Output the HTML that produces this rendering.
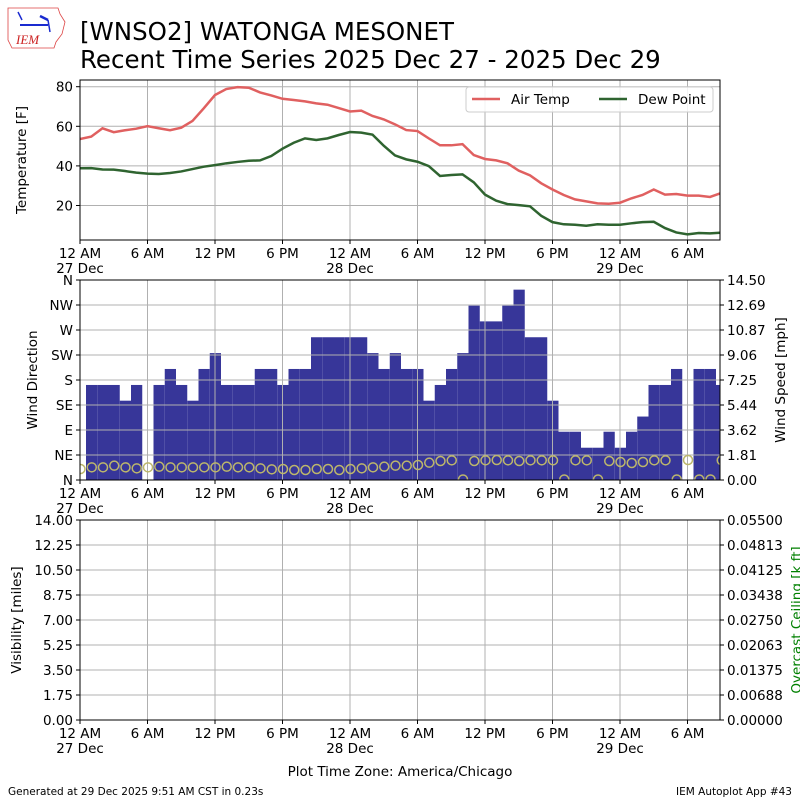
<!DOCTYPE html>
<html><head><meta charset="utf-8"><style>
body{margin:0;background:#fff;}
svg text{font-family:"DejaVu Sans","Liberation Sans",sans-serif;}
</style></head><body>
<svg id="c" width="800" height="800" viewBox="0 0 800 800" xmlns="http://www.w3.org/2000/svg">
<g>
<path d="M8,8 L58,8 L60,14 L65,22 L62,34 L56,42 L54,48 L12,48 L8,40 Z" fill="none" stroke="#d44" stroke-width="0.8"/>
<line x1="20" y1="25" x2="48" y2="25" stroke="#1a2bd0" stroke-width="2"/>
<line x1="18" y1="12" x2="22" y2="20" stroke="#1a2bd0" stroke-width="1.5"/>
<line x1="40" y1="16" x2="48" y2="20" stroke="#1a2bd0" stroke-width="2.5"/>
<line x1="48" y1="20" x2="50" y2="32" stroke="#1a2bd0" stroke-width="1.5"/>
<text x="16" y="44" font-size="13" fill="#c22" font-style="italic" style="font-family:'Liberation Serif',serif">IEM</text>
</g>
<text x="80" y="40" font-size="24.5" fill="#000">[WNSO2] WATONGA MESONET</text>
<text x="80" y="68" font-size="24.5" fill="#000">Recent Time Series 2025 Dec 27 - 2025 Dec 29</text>
<g id="g1"></g>
<g id="g2"></g>
<g id="g3"></g>
<text x="400" y="776" font-size="13.5" text-anchor="middle">Plot Time Zone: America/Chicago</text>
<text x="8" y="795" font-size="10.5">Generated at 29 Dec 2025 9:51 AM CST in 0.23s</text>
<text x="792" y="795" font-size="10.5" text-anchor="end">IEM Autoplot App #43</text>
</svg>
<script>
const airTemp=[53.6,54.8,59,57,58,58.8,60.1,59,58,59.3,62.7,69.1,75.8,78.8,79.8,79.5,77.1,75.6,73.9,73.3,72.6,71.6,70.9,69.2,67.5,67.9,65.2,63.5,61,58.1,57.6,53.9,50.4,50.4,51,45.5,43.5,42.8,41.3,37.6,35.2,31.2,28.1,25.3,23.1,22.1,21.1,20.9,21.4,23.6,25.3,28.1,25.5,25.8,25,25,24.3,26.3];
const dewPoint=[38.8,38.9,38.2,38.1,37.4,36.6,36.1,35.9,36.4,37.2,38.4,39.6,40.4,41.3,42,42.6,42.8,45,48.7,51.7,53.9,53.1,53.9,55.6,57.1,56.8,55.8,50.2,45.3,43.3,42.1,39.9,34.9,35.4,35.7,31.7,25.5,22.4,20.7,20.2,19.6,14.8,11.6,10.5,10.3,9.8,10.5,10.3,10.3,11,11.6,11.8,8.6,6.4,5.4,6.1,5.9,6.3];
const windSpeed=[6.89,6.89,6.89,5.75,6.89,null,6.89,8.05,6.89,5.75,8.05,9.2,6.89,6.89,6.89,8.05,8.05,6.89,8.05,8.05,10.35,10.35,10.35,10.35,10.35,9.2,8.05,9.2,8.05,8.05,5.75,6.89,8.05,9.2,12.64,11.5,11.5,12.64,13.8,10.35,10.35,5.75,3.5,3.5,2.34,2.34,3.5,2.34,3.5,4.6,6.89,6.89,8.05,null,8.05,8.05,6.89];
const windDir=[19.8,22.8,22.8,25.8,22.8,21,22.8,24,22.8,22.8,22.8,22.8,22.8,24,22.8,22.8,21,19.2,19.8,18,18,19.8,19.8,18,19.8,21,22.8,24,25.8,25.8,27,31.2,34.2,35.4,1,34.2,35.4,36,35.4,34.2,35.4,35.4,35.4,1,35.4,35.4,1,34.2,32.4,30.6,32.4,35.4,35.4,1,36,1,1,35.4];
const xTickLabels=["12 AM","6 AM","12 PM","6 PM","12 AM","6 AM","12 PM","6 PM","12 AM","6 AM"];
const xTickDays=["27 Dec","","","","28 Dec","","","","29 Dec",""];
const tempTicks=[20,40,60,80];
const dirTicks=["N","NE","E","SE","S","SW","W","NW","N"];
const speedTicks=["0.00","1.81","3.62","5.44","7.25","9.06","10.87","12.69","14.50"];
const visTicks=["0.00","1.75","3.50","5.25","7.00","8.75","10.50","12.25","14.00"];
const ceilTicks=["0.00000","0.00688","0.01375","0.02063","0.02750","0.03438","0.04125","0.04813","0.05500"];

const NS="http://www.w3.org/2000/svg";
const L=80,R=720,HPX=11.25,FS=13.5;
function mk(p,tag,a){const e=document.createElementNS(NS,tag);for(const k in a)e.setAttribute(k,a[k]);p.appendChild(e);return e;}
const xH=h=>L+h*HPX;
function frame(g,top,bot){
  for(let i=0;i<xTickLabels.length;i++){
    const x=xH(i*6);
    const gl=mk(g,'line',{x1:x,x2:x,y1:top,y2:bot,stroke:'#b0b0b0','stroke-width':1});
    
    
    mk(g,'line',{x1:x,x2:x,y1:bot,y2:bot+4,stroke:'#000'});
    const t=mk(g,'text',{x:x,y:bot+18,'font-size':FS,'text-anchor':'middle'});t.textContent=xTickLabels[i];
    
    
    if(xTickDays[i]){const d=mk(g,'text',{x:x,y:bot+33,'font-size':FS,'text-anchor':'middle'});d.textContent=xTickDays[i];
    
    }
  }
}
function hgrid(g,n,top,bot){for(let i=0;i<n;i++){const y=bot-(bot-top)*i/(n-1);mk(g,'line',{x1:L,x2:R,y1:y,y2:y,stroke:'#b0b0b0'});}}
function border(g,top,bot){mk(g,'rect',{x:L,y:top,width:R-L,height:bot-top,fill:'none',stroke:'#000','stroke-width':1});}
function ylabels(g,labels,top,bot,side){
  for(let i=0;i<labels.length;i++){const y=bot-(bot-top)*i/(labels.length-1);
    if(side==='l'){mk(g,'line',{x1:L-4,x2:L,y1:y,y2:y,stroke:'#000'});const t=mk(g,'text',{x:L-7,y:y+5,'font-size':FS,'text-anchor':'end'});t.textContent=labels[i];}
    else{mk(g,'line',{x1:R,x2:R+4,y1:y,y2:y,stroke:'#000'});const t=mk(g,'text',{x:R+7,y:y+5,'font-size':FS});t.textContent=labels[i];}
  }
}
function vlabel(g,txt,x,y,color,name){const t=mk(g,'text',{x:x,y:y,'font-size':FS,'text-anchor':'middle',transform:`rotate(-90 ${x} ${y})`,fill:color||'#000'});t.textContent=txt;}

// Panel 1
const g1=document.getElementById('g1');
const T1=80,B1=240;
const yT=t=>86.7+(80-t)*1.98;
frame(g1,T1,B1);
for(const t of tempTicks){const y=yT(t);mk(g1,'line',{x1:L,x2:R,y1:y,y2:y,stroke:'#b0b0b0'});mk(g1,'line',{x1:L-4,x2:L,y1:y,y2:y,stroke:'#000'});const tx=mk(g1,'text',{x:L-7,y:y+5,'font-size':FS,'text-anchor':'end'});tx.textContent=t;}
mk(g1,'clipPath',{id:'cp1'});
mk(document.getElementById('cp1'),'rect',{x:L,y:T1,width:R-L,height:B1-T1});
const pl1=mk(g1,'polyline',{points:airTemp.map((v,i)=>xH(i)+','+yT(v)).join(' '),fill:'none',stroke:'#e06060','stroke-width':2.5,'clip-path':'url(#cp1)'});


const pl2=mk(g1,'polyline',{points:dewPoint.map((v,i)=>xH(i)+','+yT(v)).join(' '),fill:'none',stroke:'#2f6430','stroke-width':2.5,'clip-path':'url(#cp1)'});


border(g1,T1,B1);
vlabel(g1,'Temperature [F]',26,160,'#000','temp-axis-title');
const lg=mk(g1,'g',{});


mk(lg,'rect',{x:466,y:87,width:247,height:25,rx:3,fill:'#fff','fill-opacity':0.85,stroke:'#ccc'});
mk(lg,'line',{x1:472,x2:500,y1:99,y2:99,stroke:'#e06060','stroke-width':2.5});
const l1=mk(lg,'text',{x:511,y:104,'font-size':FS});l1.textContent='Air Temp';
mk(lg,'line',{x1:599,x2:627,y1:99,y2:99,stroke:'#2f6430','stroke-width':2.5});
const l2=mk(lg,'text',{x:638,y:104,'font-size':FS});l2.textContent='Dew Point';

// Panel 2
const g2=document.getElementById('g2');
const T2=280,B2=480;
frame(g2,T2,B2);
hgrid(g2,9,T2,B2);
const ySp=s=>B2-s/14.5*(B2-T2);
windSpeed.forEach((s,i)=>{if(s==null)return;const x0=L+6+i*HPX;const x1=Math.min(x0+HPX,R);
  const r=mk(g2,'rect',{x:x0,y:ySp(s),width:x1-x0,height:B2-ySp(s),fill:'#373699'});
  
  });
for(let i=0;i<xTickLabels.length;i++){const x=xH(i*6);mk(g2,'line',{x1:x,x2:x,y1:T2,y2:B2,stroke:'#b0b0b0'});}
hgrid(g2,9,T2,B2);
mk(g2,'clipPath',{id:'cp2'});
mk(document.getElementById('cp2'),'rect',{x:L,y:T2,width:R-L,height:B2-T2});
const yDir=d=>B2-d/360*(B2-T2);
windDir.forEach((d,i)=>{const c=mk(g2,'circle',{cx:L+0.5+i*HPX,cy:yDir(d),r:4.5,fill:'none',stroke:'#bdb76b','stroke-width':1.5,'clip-path':'url(#cp2)'});
  
  });
border(g2,T2,B2);
ylabels(g2,dirTicks,T2,B2,'l');
ylabels(g2,speedTicks,T2,B2,'r');
vlabel(g2,'Wind Direction',37,380,'#000','wind-direction-axis-title');
vlabel(g2,'Wind Speed [mph]',785,380,'#000','wind-speed-axis-title');

// Panel 3
const g3=document.getElementById('g3');
const T3=520,B3=720;
frame(g3,T3,B3);
hgrid(g3,9,T3,B3);
border(g3,T3,B3);
ylabels(g3,visTicks,T3,B3,'l');
ylabels(g3,ceilTicks,T3,B3,'r');
vlabel(g3,'Visibility [miles]',21,620,'#000','visibility-axis-title');
vlabel(g3,'Overcast Ceiling [k ft]',801,620,'#008000','ceiling-axis-title');
</script>
</body></html>
